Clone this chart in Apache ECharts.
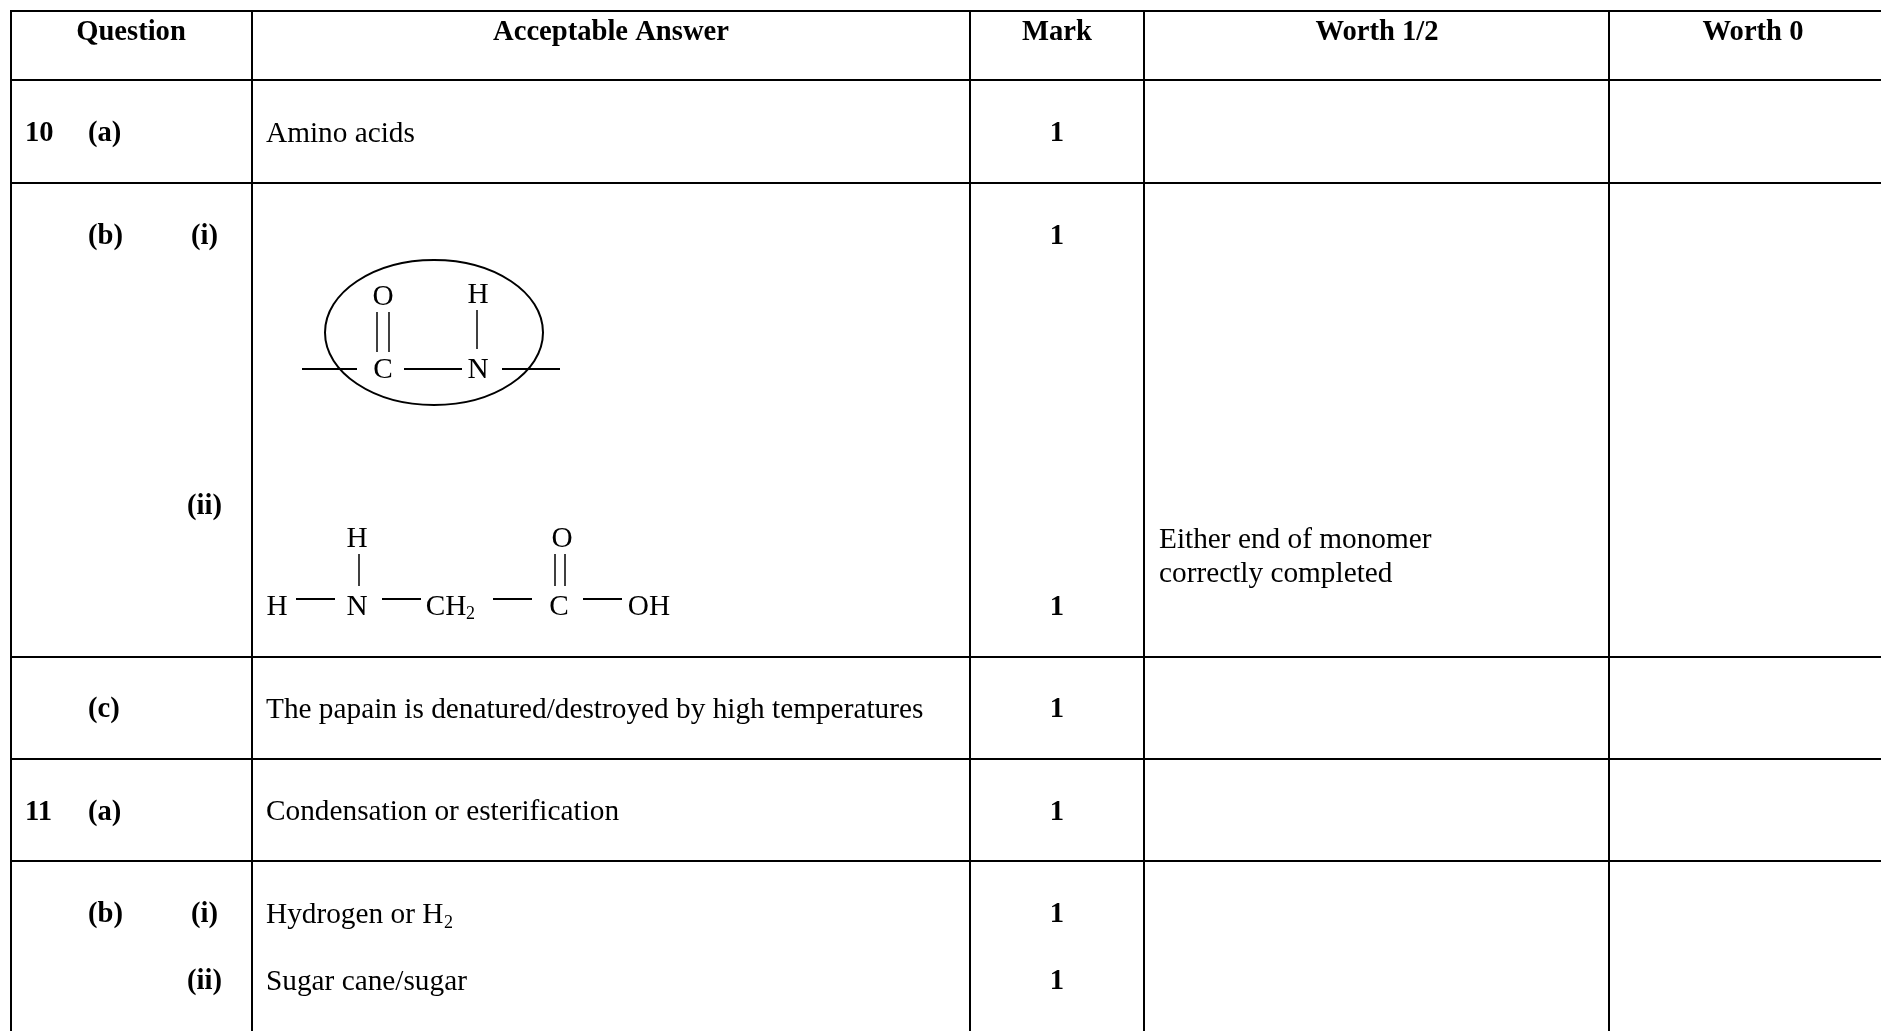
<!DOCTYPE html>
<html>
<head>
<meta charset="utf-8">
<script src="https://cdn.jsdelivr.net/npm/echarts@6/dist/echarts.min.js"></script>
<style>
html, body { margin: 0; padding: 0; background: #fff; }
#chart { width: 1881px; height: 1031px; }
</style>
</head>
<body>
<div id="chart"></div>
<script>
// table rules as x1, y1, x2, y2 in page units
var columnEdges = [11, 252, 970, 1144, 1609];
var rowEdges = [11, 80, 183, 657, 759, 861];

var headers = [
  [131, 33, 'Question'],
  [611, 33, 'Acceptable Answer'],
  [1057, 33, 'Mark'],
  [1377, 33, 'Worth 1/2'],
  [1753, 33, 'Worth 0']
];
var questionLabels = [
  [25, 134, '10'], [88, 134, '(a)'],
  [88, 237, '(b)'], [191, 237, '(i)'],
  [187, 507, '(ii)'],
  [88, 710, '(c)'],
  [25, 813, '11'], [88, 813, '(a)'],
  [88, 915, '(b)'], [191, 915, '(i)'],
  [187, 982, '(ii)']
];
var marks = [
  [1057, 134, '1'], [1057, 237, '1'], [1057, 608, '1'], [1057, 710, '1'],
  [1057, 813, '1'], [1057, 915, '1'], [1057, 982, '1']
];
var answers = [
  [266, 134, 'Amino acids'],
  [266, 710, 'The papain is denatured/destroyed by high temperatures'],
  [266, 812, 'Condensation or esterification'],
  [266, 915, 'Hydrogen or H'],
  [266, 982, 'Sugar cane/sugar'],
  [1159, 540, 'Either end of monomer'],
  [1159, 574, 'correctly completed']
];
var subscripts = [
  [444, 923, '2'],
  [466, 614, '2']
];
var atoms = [
  [383, 297, 'O'], [478, 295, 'H'], [383, 370, 'C'], [478, 370, 'N'],
  [277, 607, 'H'], [357, 539, 'H'], [357, 607, 'N'], [446, 607, 'CH'],
  [559, 607, 'C'], [562, 539, 'O'], [649, 607, 'OH']
];
var verticalBonds = [
  [377, 312, 377, 352], [389, 312, 389, 352], [477, 310, 477, 349],
  [359, 554, 359, 586], [555, 554, 555, 586], [565, 554, 565, 586]
];
var horizontalBonds = [
  [302, 369, 357, 369], [404, 369, 462, 369], [502, 369, 560, 369],
  [296, 599, 335, 599], [382, 599, 421, 599], [493, 599, 532, 599], [583, 599, 622, 599]
];
var peptideRing = [[434, 332.5, 109, 72.5]];

var tableRules = [];
columnEdges.forEach(function (x) { tableRules.push([x, 10, x, 1031]); });
rowEdges.forEach(function (y) { tableRules.push([10, y, 1881, y]); });

function lineSeries(data, width) {
  return {
    type: 'custom', data: data, silent: true, clip: false,
    renderItem: function (params, api) {
      var a = api.coord([api.value(0), api.value(1)]);
      var b = api.coord([api.value(2), api.value(3)]);
      return {
        type: 'line',
        shape: { x1: a[0], y1: a[1], x2: b[0], y2: b[1] },
        style: { stroke: '#000', lineWidth: width, fill: null }
      };
    }
  };
}

function textSeries(data, font, align) {
  return {
    type: 'custom', data: data, silent: true, clip: false,
    renderItem: function (params, api) {
      var p = api.coord([data[params.dataIndex][0], data[params.dataIndex][1]]);
      return {
        type: 'text',
        style: {
          text: data[params.dataIndex][2], x: p[0], y: p[1],
          font: font, fill: '#000', align: align, verticalAlign: 'middle'
        }
      };
    }
  };
}

var serif = '"Liberation Serif", "Times New Roman", serif';
var myChart = echarts.init(document.getElementById('chart'));
myChart.setOption({
  animation: false,
  backgroundColor: '#fff',
  grid: { left: 0, right: 0, top: 0, bottom: 0 },
  xAxis: { type: 'value', min: 0, max: 1881, show: false },
  yAxis: { type: 'value', min: 0, max: 1031, inverse: true, show: false },
  series: [
    lineSeries(tableRules, 2),
    lineSeries(verticalBonds, 1.5),
    lineSeries(horizontalBonds, 2),
    {
      type: 'custom', data: peptideRing, silent: true, clip: false,
      renderItem: function (params, api) {
        var c = api.coord([api.value(0), api.value(1)]);
        return {
          type: 'ellipse',
          shape: { cx: c[0], cy: c[1], rx: api.value(2), ry: api.value(3) },
          style: { stroke: '#000', lineWidth: 2, fill: null }
        };
      }
    },
    textSeries(headers, 'bold 28.6px ' + serif, 'center'),
    textSeries(questionLabels, 'bold 28.6px ' + serif, 'left'),
    textSeries(marks, 'bold 28.6px ' + serif, 'center'),
    textSeries(answers, '29.3px ' + serif, 'left'),
    textSeries(atoms, '29.3px ' + serif, 'center'),
    textSeries(subscripts, '18px ' + serif, 'left')
  ]
});
</script>
</body>
</html>
